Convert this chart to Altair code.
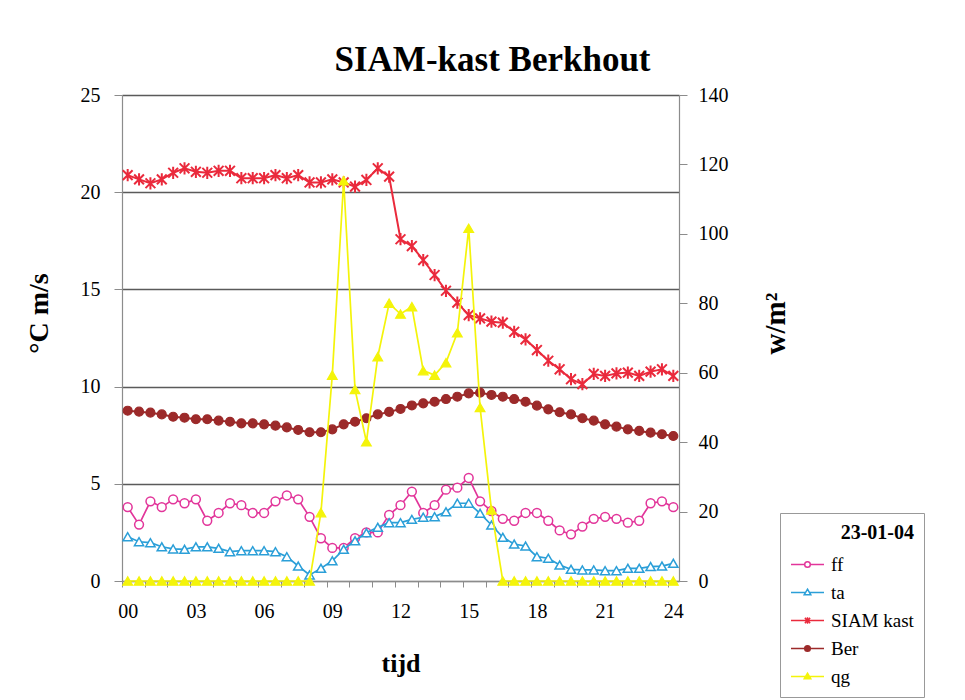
import altair as alt
import pandas as pd

FONT = "Liberation Serif"

# ---- data (half-hourly, 23-01-04) ----
hours = [0, 0.5, 1, 1.5, 2, 2.5, 3, 3.5, 4, 4.5, 5, 5.5, 6, 6.5, 7, 7.5, 8, 8.5,
         9, 9.5, 10, 10.5, 11, 11.5, 12, 12.5, 13, 13.5, 14, 14.5, 15, 15.5, 16,
         16.5, 17, 17.5, 18, 18.5, 19, 19.5, 20, 20.5, 21, 21.5, 22, 22.5, 23,
         23.5, 24]

ff = [3.8, 2.9, 4.1, 3.8, 4.2, 4.0, 4.2, 3.1, 3.5, 4.0,
      3.9, 3.5, 3.5, 4.1, 4.4, 4.2, 3.3, 2.2, 1.7, 1.7,
      2.2, 2.5, 2.5, 3.4, 3.9, 4.6, 3.5, 3.9, 4.7, 4.8,
      5.3, 4.1, 3.6, 3.2, 3.1, 3.5, 3.5, 3.1, 2.6, 2.4,
      2.8, 3.2, 3.3, 3.2, 3.0, 3.1, 4.0, 4.1, 3.8]

ta = [2.28, 2.02, 1.97, 1.76, 1.65, 1.63, 1.76, 1.76, 1.68, 1.51,
      1.56, 1.56, 1.56, 1.51, 1.25, 0.77, 0.31, 0.65, 1.04, 1.63,
      2.07, 2.48, 2.76, 3.0, 3.0, 3.17, 3.28, 3.31, 3.56, 4.0,
      4.0, 3.48, 2.88, 2.25, 1.90, 1.80, 1.25, 1.17, 0.82, 0.60,
      0.57, 0.57, 0.53, 0.53, 0.65, 0.65, 0.74, 0.77, 0.91]

siam = [20.88, 20.66, 20.46, 20.66, 21.0, 21.23, 21.05, 21.0, 21.1, 21.1,
        20.72, 20.72, 20.72, 20.88, 20.72, 20.88, 20.5, 20.5, 20.66, 20.5,
        20.29, 20.63, 21.23, 20.8, 17.58, 17.23, 16.51, 15.74, 14.93, 14.32,
        13.68, 13.51, 13.34, 13.29, 12.82, 12.43, 11.88, 11.33, 10.89, 10.38,
        10.13, 10.65, 10.55, 10.68, 10.72, 10.55, 10.77, 10.89, 10.55]

ber = [8.76, 8.71, 8.66, 8.57, 8.45, 8.40, 8.32, 8.32, 8.25, 8.19,
       8.11, 8.11, 8.06, 7.99, 7.90, 7.77, 7.65, 7.65, 7.80, 8.06,
       8.19, 8.37, 8.57, 8.70, 8.85, 9.03, 9.14, 9.22, 9.36, 9.48,
       9.65, 9.69, 9.57, 9.48, 9.36, 9.22, 9.02, 8.83, 8.68, 8.57,
       8.37, 8.25, 8.06, 7.94, 7.80, 7.72, 7.63, 7.55, 7.46]

qg = [0, 0, 0, 0, 0, 0, 0, 0, 0, 0,
      0, 0, 0, 0, 0, 0, 0, 19.7, 59.3, 115.3,
      55.2, 40.1, 64.6, 80.0, 76.9, 79.0, 60.6, 59.3, 62.9, 71.5,
      101.6, 50.0, 20.5, 0, 0, 0, 0, 0, 0, 0,
      0, 0, 0, 0, 0, 0, 0, 0, 0]

SERIES = ["ff", "ta", "SIAM kast", "Ber", "qg"]
COLORS = ["#e2359a", "#2b9fd8", "#ea2a3c", "#9c2a2a", "#f4f40a"]
FILLS = ["#ffffff", "#ffffff", "#ea2a3c", "#9c2a2a", "#f4f40a"]

rows = []
for name, vals in zip(SERIES, [ff, ta, siam, ber, qg]):
    for h, v in zip(hours, vals):
        rows.append({"hour": h, "series": name, "value": v})
df = pd.DataFrame(rows)

STAR = "M-0.8,-0.8L0.8,0.8M-0.8,0.8L0.8,-0.8M0,-1V1"
MARKERS = {
    "ff": dict(shape="circle", size=78, filled=False, fill="#ffffff", sw=1.5),
    "ta": dict(shape="triangle-up", size=85, filled=False, fill="#ffffff", sw=1.5),
    "SIAM kast": dict(shape=STAR, size=150, filled=False, sw=2.0),
    "Ber": dict(shape="circle", size=80, filled=True, sw=1.2),
    "qg": dict(shape="triangle-up", size=95, filled=True, sw=1.2),
}
LINE_W = {"ff": 1.7, "ta": 1.7, "SIAM kast": 2.0, "Ber": 2.0, "qg": 1.7}

# legend symbols: a short line with the marker in its middle
LEG_PATHS = [
    "M-1,0H-0.17M0.17,0H1M0.17,0A0.17,0.17,0,1,1,-0.17,0A0.17,0.17,0,1,1,0.17,0",
    "M-1,0H-0.14M0.14,0H1M0,-0.2L0.2,0.14L-0.2,0.14Z",
    "M-1,0H1M-0.16,-0.16L0.16,0.16M-0.16,0.16L0.16,-0.16M0,-0.2V0.2",
    "M-1,0H1M0.17,0A0.17,0.17,0,1,1,-0.17,0A0.17,0.17,0,1,1,0.17,0",
    "M-1,0H1M0,-0.2L0.2,0.14L-0.2,0.14Z",
]

legend = alt.Legend(
    title="23-01-04", orient="none", legendX=658, legendY=418,
    titleFont=FONT, titleFontSize=20, titleFontWeight="bold", titleColor="black",
    titleAnchor="end", titlePadding=4,
    labelFont=FONT, labelFontSize=19, labelColor="black", labelOffset=6,
    symbolSize=1089, symbolStrokeWidth=1.5, symbolOpacity=1,
    symbolFillColor="#ffffff", symbolStrokeColor="#000000",
    strokeColor="#999999", fillColor="#ffffff", padding=10, rowPadding=-0.5,
)

x_enc = alt.X(
    "hour:Q",
    scale=alt.Scale(domain=[-0.25, 24.25], nice=False, zero=False),
    axis=alt.Axis(
        values=[k - 0.25 for k in range(25)],
        labelExpr="(round(datum.value + 0.25) % 3 === 0) ? ((round(datum.value + 0.25) < 10 ? '0' : '') + round(datum.value + 0.25)) : ''",
        labelOffset=5.68, labelFlush=False, labelOverlap=False, labelPadding=14,
        tickSize=6, grid=False, title="tijd", titleFontSize=26,
        titleY=82, titleBaseline="middle",
    ),
)

y_left = alt.Y(
    "value:Q",
    scale=alt.Scale(domain=[0, 25], nice=False),
    axis=alt.Axis(
        values=[0, 5, 10, 15, 20, 25], grid=True, tickSize=8, labelPadding=14,
        title="°C m/s", titleFontSize=28, titleAngle=270,
        titleX=-83, titleY=218, titleBaseline="middle", titleAlign="center",
    ),
)

y_right = alt.Y(
    "value:Q",
    scale=alt.Scale(domain=[0, 140], nice=False),
    axis=alt.Axis(
        orient="right", values=[0, 20, 40, 60, 80, 100, 120, 140], grid=False,
        tickSize=8, labelPadding=11,
        title="w/m²", titleFontSize=29, titleAngle=270,
        titleX=96, titleY=228, titleBaseline="middle", titleAlign="center",
    ),
)


def series_layers(name, y_enc):
    base = alt.Chart(df).transform_filter(alt.datum.series == name)
    col = COLORS[SERIES.index(name)]
    line = base.mark_line(strokeWidth=LINE_W[name], color=col).encode(x=x_enc, y=y_enc)
    m = MARKERS[name]
    kw = dict(shape=m["shape"], size=m["size"], filled=m["filled"],
              stroke=col, strokeWidth=m["sw"], opacity=1)
    if m["filled"]:
        kw["fill"] = col
    elif "fill" in m:
        kw["fill"] = m["fill"]
    pts = base.mark_point(**kw).encode(x=x_enc, y=y_enc)
    return [line, pts]


# legend-only layer (draws no marks; gives the legend its line+marker symbols)
legend_layer = (
    alt.Chart(df)
    .transform_filter("false")
    .mark_point(filled=False, strokeWidth=1.5)
    .encode(
        x=x_enc, y=y_left,
        color=alt.Color("series:N", scale=alt.Scale(domain=SERIES, range=COLORS), legend=legend),
        fill=alt.Fill("series:N", scale=alt.Scale(domain=SERIES, range=FILLS), legend=legend),
        shape=alt.Shape("series:N", scale=alt.Scale(domain=SERIES, range=LEG_PATHS), legend=legend),
    )
)

left_layers = []
for nm in ["ff", "ta", "SIAM kast", "Ber"]:
    left_layers += series_layers(nm, y_left)
left = alt.layer(*left_layers, legend_layer)
right = alt.layer(*series_layers("qg", y_right))

chart = (
    alt.layer(left, right)
    .resolve_scale(y="independent")
    .properties(
        width=557, height=486,
        autosize=alt.AutoSizeParams(type="none"),
        padding={"left": 122, "top": 95, "right": 286, "bottom": 119},
        background="#ffffff",
        title=alt.TitleParams(
            "SIAM-kast Berkhout", font=FONT, fontSize=35, fontWeight="bold",
            color="black", anchor="middle", frame="group", dx=92, offset=-21,
            baseline="alphabetic",
        ),
    )
    .configure_view(stroke="transparent")
    .configure_axis(
        labelFont=FONT, labelFontSize=20, labelColor="black",
        titleFont=FONT, titleFontWeight="bold", titleColor="black",
        domainColor="#8c8c8c", tickColor="#8c8c8c", domainWidth=1.2,
        gridColor="#5a5a5a", gridWidth=1.4,
    )
)

chart.save("out.html", embed_options={"renderer": "svg", "actions": False})
